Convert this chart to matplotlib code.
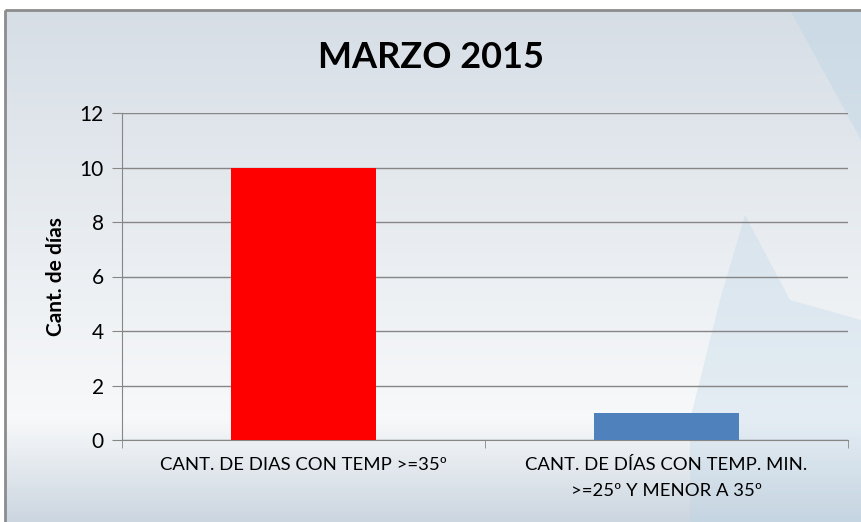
import numpy as np
import matplotlib
matplotlib.use('Agg')
import matplotlib.pyplot as plt
from matplotlib.patches import Rectangle, Polygon

# datos del grafico
categorias = ['CANT. DE DIAS CON TEMP >=35º', 'CANT. DE DÍAS CON TEMP. MIN.\n>=25º Y MENOR A 35º']
valores = [10, 1]
colores = ['#FF0000', '#4F81BD']

plt.rcParams['font.family'] = ['Lato', 'DejaVu Sans']

W, H = 861, 522
fig = plt.figure(figsize=(W / 100, H / 100), dpi=100)

# fondo con degradado
bg = fig.add_axes([0, 0, 1, 1], zorder=-10)
bg.axis('off')
ys = np.linspace(0, 1, 256)
top = np.array([0.84, 0.87, 0.90])
mid = np.array([0.97, 0.975, 0.98])
bot = np.array([0.80, 0.84, 0.88])
grad = np.where(ys[:, None] < 0.80,
                top + (mid - top) * (ys[:, None] / 0.80),
                mid + (bot - mid) * ((ys[:, None] - 0.80) / 0.20))
img = np.repeat(grad[:, None, :], 2, axis=1)
bg.imshow(img, extent=[5, W, H, 10], aspect='auto')
bg.set_xlim(0, W)
bg.set_ylim(H, 0)
# marca de agua
bg.add_patch(Polygon([[790, 10], [861, 10], [861, 140]], closed=True,
                     color='#B8D3E6', alpha=0.35, lw=0))
bg.add_patch(Polygon([[745, 215], [790, 300], [861, 320], [861, 522], [690, 522],
                      [690, 420], [720, 300]], closed=True,
                     color='#B8D3E6', alpha=0.3, lw=0))
bg.add_patch(Rectangle((5, 10), W, H, fill=False, ec='#8C8C8C', lw=2))

ax = fig.add_axes([122 / W, 1 - 440 / H, (848 - 122) / W, (440 - 113) / H])
ax.patch.set_alpha(0)
x = np.arange(len(categorias))
ax.bar(x, valores, width=0.4, color=colores, zorder=3)
ax.set_xlim(-0.5, 1.5)
ax.set_ylim(0, 12)
ax.set_yticks(range(0, 13, 2))
ax.yaxis.grid(True, color='#868686', lw=1, zorder=0)
ax.set_xticks(x)
ax.set_xticklabels(categorias, fontsize=13.3, linespacing=1.8)
ax.set_xticks([-0.5, 0.5, 1.5], minor=True)
ax.tick_params(axis='x', which='major', length=0, pad=12)
ax.tick_params(axis='x', which='minor', length=6, color='#868686')
ax.tick_params(axis='y', length=7, color='#868686', labelsize=15, pad=6)
for s in ['top', 'right']:
    ax.spines[s].set_visible(False)
ax.spines['left'].set_color('#868686')
ax.spines['bottom'].set_color('#868686')
ax.set_ylabel('Cant. de días', fontsize=15, fontweight='bold', labelpad=10)
fig.text(0.5, 1 - 58 / H, 'MARZO 2015', ha='center', va='center',
         fontsize=26, fontweight='bold')

fig.savefig('out.png', dpi=100)
